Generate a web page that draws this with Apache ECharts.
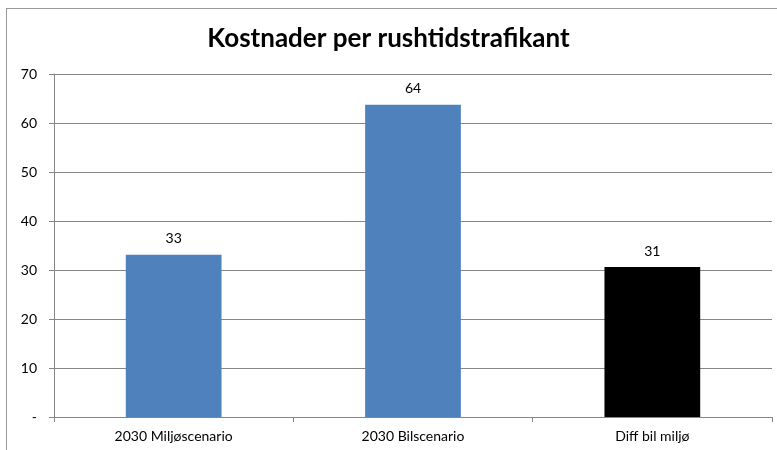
<!DOCTYPE html>
<html>
<head>
<meta charset="utf-8">
<script src="https://cdn.jsdelivr.net/npm/echarts@6/dist/echarts.min.js"></script>
<style>
html, body { margin: 0; padding: 0; background: #fff; }
#chart { width: 777px; height: 450px; }
#frame { position: absolute; left: 6px; top: 8px; width: 780px; height: 450px; border: 1px solid #9a9a9a; box-sizing: border-box; pointer-events: none; }
</style>
</head>
<body>
<div id="chart"></div>
<div id="frame"></div>
<script>
// kategorier og verdier
var categories = ['2030 Miljøscenario', '2030 Bilscenario', 'Diff bil miljø'];
var values = [33.1, 63.7, 30.6];
var barColors = ['#4F81BD', '#4F81BD', '#000000'];
var yTicks = [0, 10, 20, 30, 40, 50, 60, 70];

var myChart = echarts.init(document.getElementById('chart'));

var option = {
    animation: false,
    title: {
        text: 'Kostnader per rushtidstrafikant',
        left: 'center',
        top: 21,
        textStyle: {
            fontFamily: 'Lato',
            fontWeight: 'bold',
            fontSize: 26,
            color: '#000'
        }
    },
    grid: {
        left: 54,
        right: 5,
        top: 74,
        bottom: 33
    },
    xAxis: {
        type: 'category',
        data: categories,
        axisLine: { lineStyle: { color: '#868686' } },
        axisTick: { show: true, alignWithLabel: false, length: 5, lineStyle: { color: '#868686' } },
        axisLabel: {
            color: '#000',
            fontFamily: 'Lato',
            fontSize: 14,
            margin: 12
        }
    },
    yAxis: {
        type: 'value',
        min: yTicks[0],
        max: yTicks[yTicks.length - 1],
        interval: 10,
        axisLine: { show: true, lineStyle: { color: '#868686' } },
        axisTick: { show: true, length: 5, lineStyle: { color: '#868686' } },
        splitLine: { lineStyle: { color: '#868686' } },
        axisLabel: {
            color: '#000',
            fontFamily: 'Lato',
            fontSize: 14,
            margin: 17,
            formatter: function (v) {
                return v === 0 ? '-' : v;
            }
        }
    },
    series: [
        {
            type: 'bar',
            barWidth: '40%',
            data: values.map(function (v, i) {
                return { value: v, itemStyle: { color: barColors[i] } };
            }),
            label: {
                show: true,
                position: 'top',
                distance: 9,
                color: '#000',
                fontFamily: 'Lato',
                fontSize: 14,
                formatter: function (p) {
                    return Math.round(p.value);
                }
            }
        }
    ]
};

myChart.setOption(option);
</script>
</body>
</html>
